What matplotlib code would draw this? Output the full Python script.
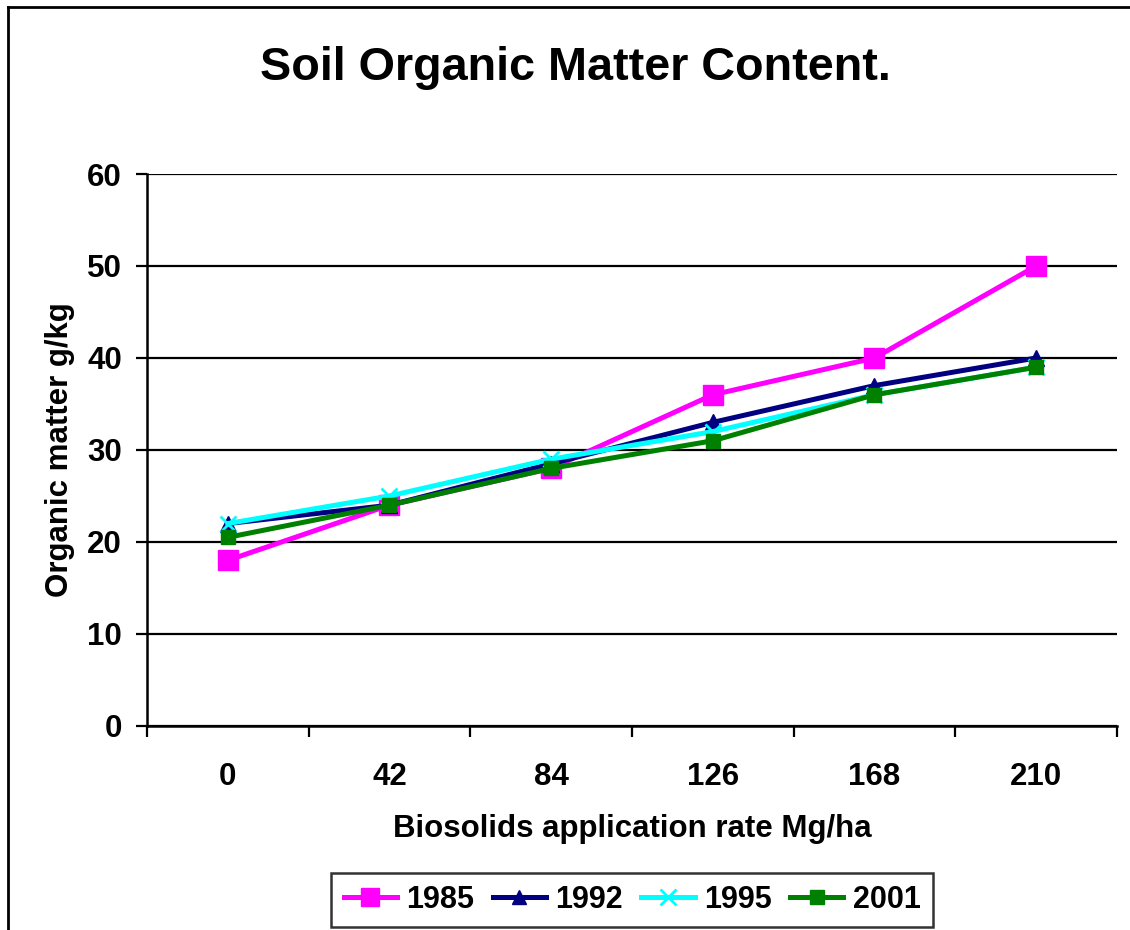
import numpy as np
import matplotlib
matplotlib.use("Agg")
import matplotlib.pyplot as plt
from matplotlib.lines import Line2D

plt.rcParams['font.family'] = ['Liberation Sans', 'DejaVu Sans']
plt.rcParams['font.weight'] = 'bold'

rates = ["0", "42", "84", "126", "168", "210"]
om_1985 = [18, 24, 28, 36, 40, 50]
om_1992 = [22, 24, 28.5, 33, 37, 40]
om_1995 = [22, 25, 29, 32, 36, 39]
om_2001 = [20.5, 24, 28, 31, 36, 39]

fig = plt.figure(figsize=(11.3, 9.3), dpi=100)
ax = fig.add_axes([0.130, 0.2194, 0.8585, 0.5935])

x = np.arange(len(rates))
ax.plot(x, om_1985, color="#ff00ff", lw=3.6, marker="s", ms=14, label="1985", zorder=3)
ax.plot(x, om_1992, color="#000080", lw=3.6, marker="^", ms=11, label="1992", zorder=4)
ax.plot(x, om_1995, color="#00ffff", lw=3.6, marker="x", ms=12, mew=2, label="1995", zorder=5)
ax.plot(x, om_2001, color="#008000", lw=3.6, marker="s", ms=10, label="2001", zorder=6)

ax.set_xlim(-0.5, len(rates) - 0.5)
ax.set_ylim(0, 60)
ax.set_yticks(range(0, 61, 10))
ax.yaxis.grid(True, color="black", lw=1.6)
ax.set_axisbelow(True)

ax.set_xticks(x)
ax.set_xticklabels(rates)
ax.set_xticks(np.arange(-0.5, len(rates)), minor=True)
ax.tick_params(axis="x", which="major", length=0, pad=26, labelsize=22.5)
ax.tick_params(axis="x", which="minor", length=8, width=1.6, direction="out")
ax.tick_params(axis="y", length=8, width=1.6, pad=10, labelsize=22.5)

for side in ("top", "right"):
    ax.spines[side].set_visible(False)
for side in ("left", "bottom"):
    ax.spines[side].set_linewidth(1.8)

ax.set_xlabel("Biosolids application rate Mg/ha", fontsize=22.5, fontweight="bold", labelpad=16)
ax.set_ylabel("Organic matter g/kg", fontsize=22.5, fontweight="bold", labelpad=9)

fig.text(575 / 1130, 1 - 68 / 930, "Soil Organic Matter Content.", fontsize=33.7,
         fontweight="bold", ha="center", va="center")

leg = fig.legend(loc="center", bbox_to_anchor=(632 / 1130, 1 - 900 / 930), ncol=4,
                 fontsize=22, frameon=True, fancybox=False, edgecolor="black",
                 handlelength=1.75, handletextpad=0.3, columnspacing=0.6,
                 borderpad=0.4, borderaxespad=0, markerscale=0.95)
leg.get_frame().set_linewidth(1.8)
for t in leg.get_texts():
    t.set_fontweight("bold")

# chart-area border (left and top edges fall inside the canvas)
fig.add_artist(Line2D([8 / 1130, 8 / 1130], [0, 1 - 7 / 930], color="black", lw=2))
fig.add_artist(Line2D([8 / 1130, 1], [1 - 7 / 930, 1 - 7 / 930], color="black", lw=2))

fig.savefig("out.png", dpi=100)
